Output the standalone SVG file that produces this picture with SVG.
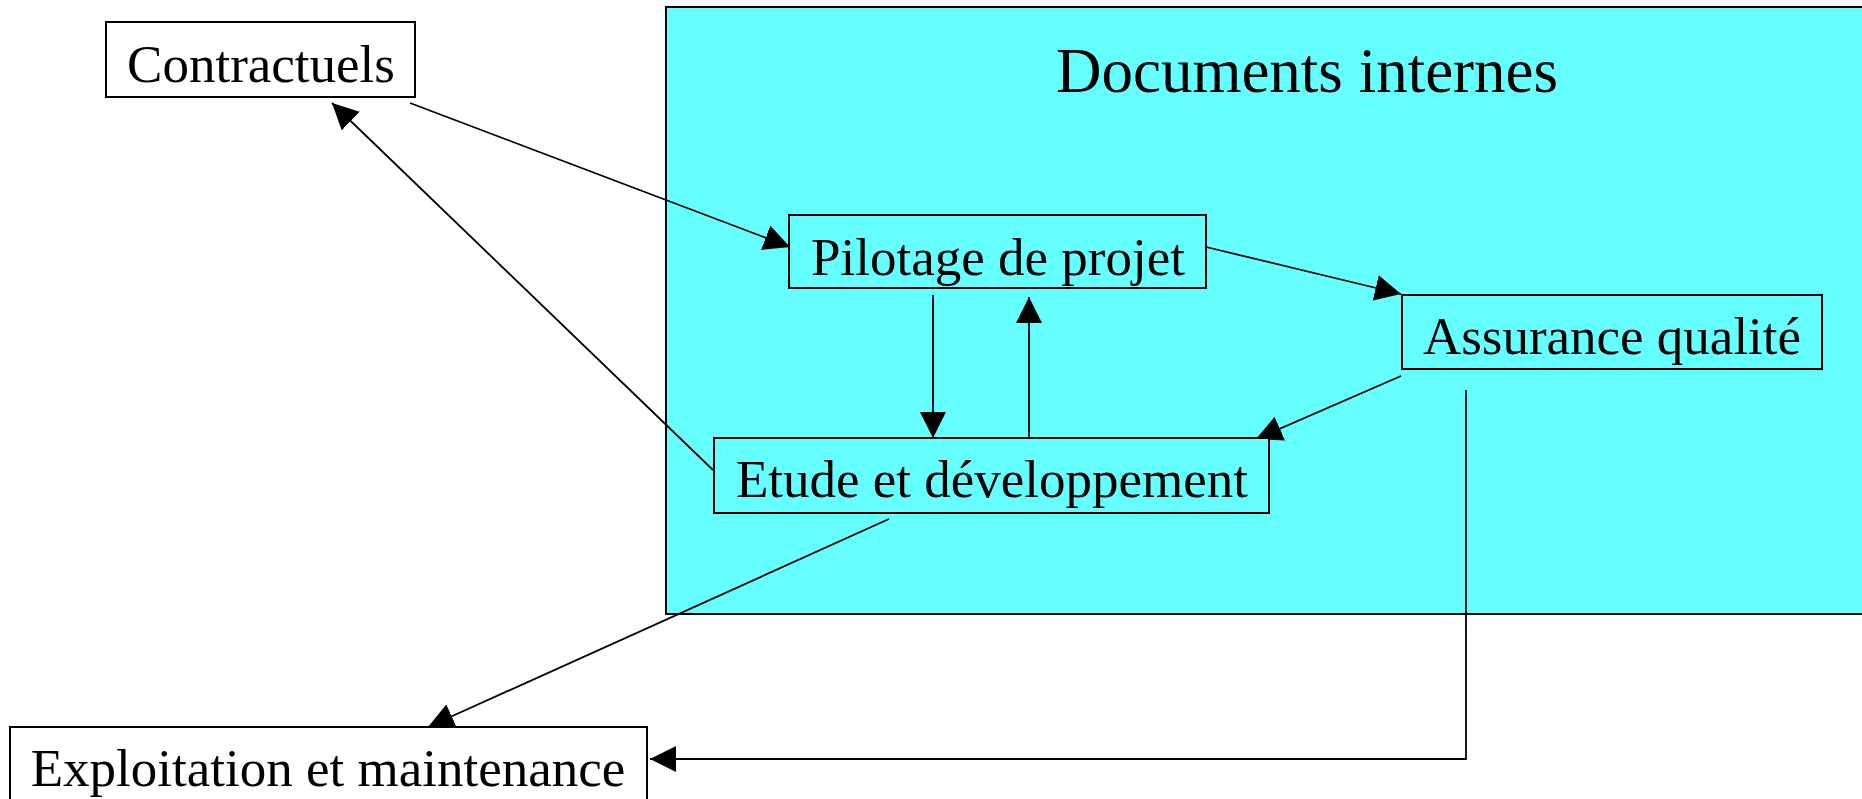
<svg xmlns="http://www.w3.org/2000/svg" width="1862" height="799" viewBox="0 0 1862 799">
  <style>
    .box { fill: #ffffff; stroke: #000000; stroke-width: 2; }
    .inner { fill: #66ffff; stroke: #000000; stroke-width: 2; }
    .label { font-family: "Liberation Serif", "Times New Roman", serif; font-size: 53px; fill: #000000; text-anchor: middle; }
    .title { font-family: "Liberation Serif", "Times New Roman", serif; font-size: 63px; fill: #000000; text-anchor: middle; }
    .link { fill: none; stroke: #000000; stroke-width: 1.8; marker-end: url(#arrow); }
  </style>
  <defs>
    <marker id="arrow" markerUnits="userSpaceOnUse" markerWidth="26" markerHeight="26" refX="26" refY="13" orient="auto">
      <path d="M0,0 L26,13 L0,26 z" fill="#000000"/>
    </marker>
  </defs>

  <rect width="1862" height="799" fill="#ffffff"/>

  <!-- internal documents area -->
  <g id="documents-internes">
    <rect x="666" y="7" width="1210" height="607" fill="#66ffff" stroke="#000000" stroke-width="2"/>
    <text class="title" x="1307" y="92">Documents internes</text>
  </g>

  <!-- connectors -->
  <g id="connectors">
    <line class="link" x1="410" y1="103" x2="790" y2="247"/>
    <line class="link" x1="713" y1="470" x2="332" y2="103"/>
    <line class="link" x1="1206" y1="247" x2="1401" y2="294"/>
    <line class="link" x1="933" y1="295" x2="933" y2="438"/>
    <line class="link" x1="1029" y1="438" x2="1029" y2="297"/>
    <line class="link" x1="1401" y1="376" x2="1256" y2="439"/>
    <line class="link" x1="889" y1="519" x2="428" y2="727"/>
    <polyline class="link" points="1466,390 1466,759 650,759"/>
  </g>

  <g id="contractuels">
    <rect class="box" x="106" y="22" width="309" height="75"/>
    <text class="label" x="261" y="82">Contractuels</text>
  </g>

  <g id="pilotage">
    <rect class="inner" x="789" y="215" width="417" height="73"/>
    <text class="label" x="998" y="275">Pilotage de projet</text>
  </g>

  <g id="assurance">
    <rect class="inner" x="1402" y="295" width="420" height="74"/>
    <text class="label" x="1612" y="354">Assurance qualité</text>
  </g>

  <g id="etude">
    <rect class="inner" x="714" y="438" width="555" height="75"/>
    <text class="label" x="992" y="497">Etude et développement</text>
  </g>

  <g id="exploitation">
    <rect class="box" x="10" y="727" width="637" height="100"/>
    <text class="label" x="328" y="786">Exploitation et maintenance</text>
  </g>
</svg>
